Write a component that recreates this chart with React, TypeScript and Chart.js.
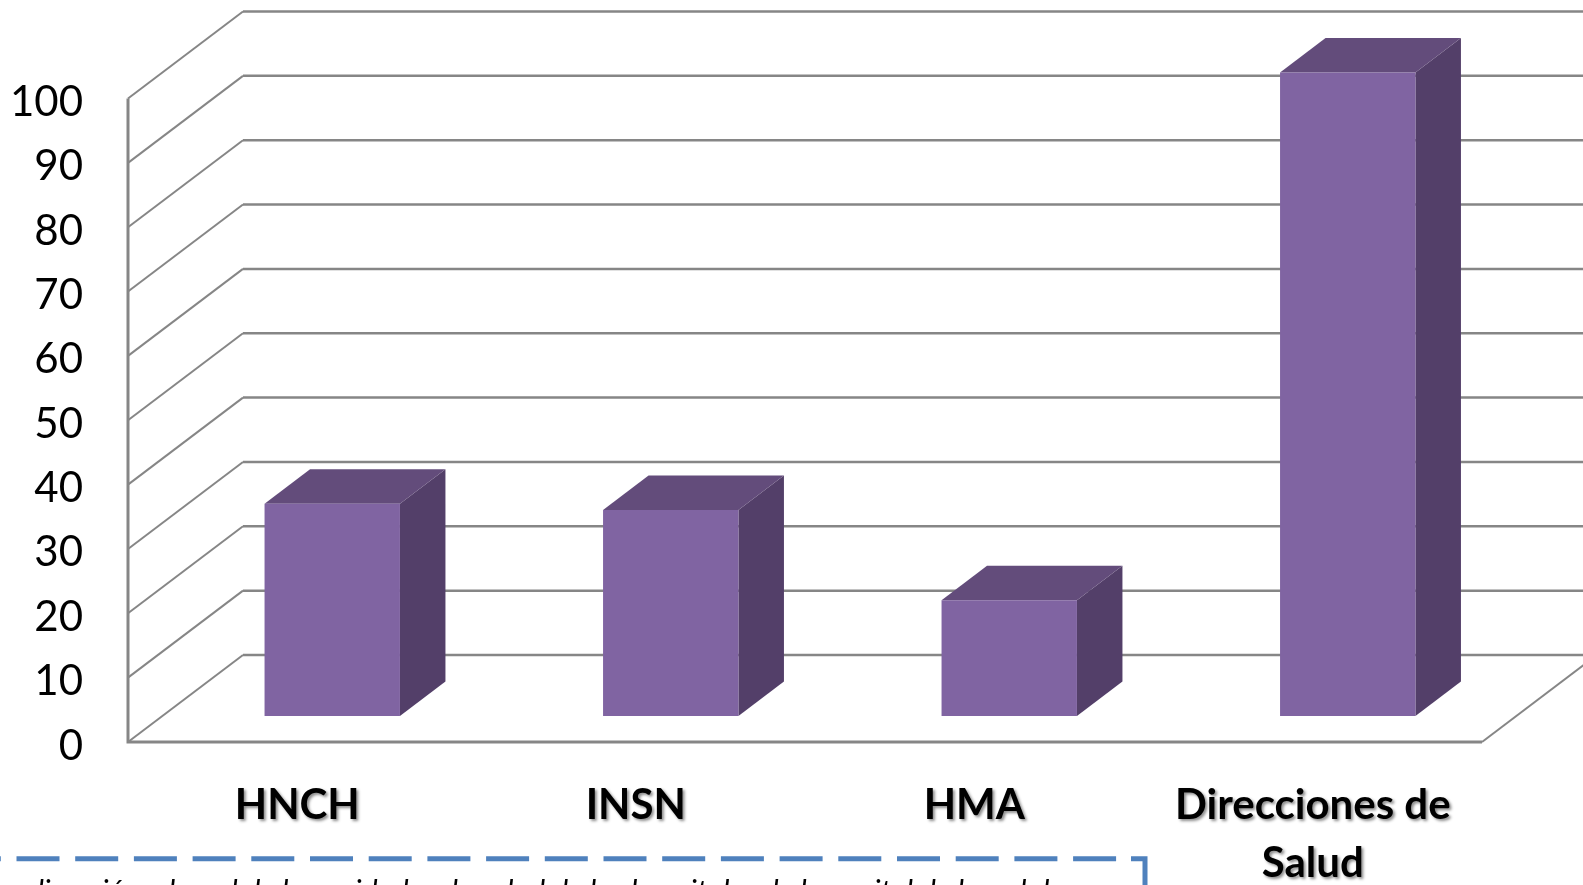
import React, { useEffect, useRef } from "react";
import { Chart, registerables } from "chart.js";

Chart.register(...registerables);

const categories: (string | string[])[] = ["HNCH", "INSN", "HMA", ["Direcciones de", "Salud"]];
const values = [33, 32, 18, 100];
const noteText = "dirección y la red de las unidades de salud de los hospitales de la capital de la red de";

const WALL_DX = 115;
const WALL_DY = 87;
const BAR_SHIFT_X = 35;
const BAR_SHIFT_Y = 26;
const BAR_DX = 45.5;
const BAR_DY = 34.5;
const LINE = "#868686";

const polygon = (ctx: CanvasRenderingContext2D, pts: number[][], fill: string) => {
  ctx.beginPath();
  pts.forEach(([x, y], i) => (i ? ctx.lineTo(x, y) : ctx.moveTo(x, y)));
  ctx.closePath();
  ctx.fillStyle = fill;
  ctx.fill();
};

const scene = {
  id: "scene",
  beforeDraw(chart: any) {
    const xs = chart.scales.x;
    const ys = chart.scales.y;
    if (!xs.__wrapped) {
      const origX = xs.drawLabels;
      xs.drawLabels = function (area: any) {
        const c = chart.ctx;
        c.save();
        c.shadowColor = "rgba(0,0,0,0.45)";
        c.shadowBlur = 3;
        c.shadowOffsetX = 2;
        c.shadowOffsetY = 2;
        origX.call(this, area);
        c.restore();
      };
      const origY = ys.drawLabels;
      ys.drawLabels = function (area: any) {
        const c = chart.ctx;
        c.save();
        c.translate(0, 4);
        origY.call(this, area);
        c.restore();
      };
      xs.__wrapped = true;
    }
  },
  beforeDatasetsDraw(chart: any) {
    const { ctx, chartArea: a, scales, width } = chart;
    const y = scales.y;
    // back wall and left wall gridlines
    y.ticks.forEach((t: any) => {
      const py = y.getPixelForValue(t.value);
      ctx.strokeStyle = LINE;
      ctx.lineWidth = 2;
      ctx.beginPath();
      ctx.moveTo(a.left, py);
      ctx.lineTo(a.left + WALL_DX, py - WALL_DY);
      ctx.stroke();
      ctx.lineWidth = 2.5;
      ctx.beginPath();
      ctx.moveTo(a.left + WALL_DX, py - WALL_DY);
      ctx.lineTo(width, py - WALL_DY);
      ctx.stroke();
    });
    // floor and axis
    ctx.strokeStyle = LINE;
    ctx.lineWidth = 2;
    ctx.beginPath();
    ctx.moveTo(a.right, a.bottom);
    ctx.lineTo(a.right + WALL_DX, a.bottom - WALL_DY);
    ctx.stroke();
    ctx.lineWidth = 3;
    ctx.beginPath();
    ctx.moveTo(a.left, a.top);
    ctx.lineTo(a.left, a.bottom);
    ctx.lineTo(a.right, a.bottom);
    ctx.stroke();
    // bar top and side faces, then shift the plane of the real bars
    ctx.save();
    ctx.translate(BAR_SHIFT_X, -BAR_SHIFT_Y);
    chart.getDatasetMeta(0).data.forEach((b: any) => {
      const l = b.x - b.width / 2;
      const r = b.x + b.width / 2;
      polygon(ctx, [[r, b.y], [r + BAR_DX, b.y - BAR_DY], [r + BAR_DX, b.base - BAR_DY], [r, b.base]], "#533F69");
      polygon(ctx, [[l, b.y], [l + BAR_DX, b.y - BAR_DY], [r + BAR_DX, b.y - BAR_DY], [r, b.y]], "#634C7B");
    });
  },
  afterDatasetsDraw(chart: any) {
    const ctx = chart.ctx;
    ctx.restore();
    // the cut-off dashed note box under the chart
    ctx.save();
    ctx.strokeStyle = "#4F81BD";
    ctx.lineWidth = 5;
    ctx.setLineDash([43, 15.7]);
    ctx.lineDashOffset = 42.2;
    ctx.beginPath();
    ctx.moveTo(0, 858.7);
    ctx.lineTo(1120, 858.7);
    ctx.stroke();
    ctx.setLineDash([]);
    ctx.beginPath();
    ctx.moveTo(1131, 858.7);
    ctx.lineTo(1145, 858.7);
    ctx.lineTo(1145, 890);
    ctx.stroke();
    ctx.fillStyle = "#000";
    ctx.font = "italic 30px Lato";
    ctx.textBaseline = "alphabetic";
    ctx.fillText(noteText, 28, 902);
    ctx.restore();
  },
};

export default function App() {
  const ref = useRef<HTMLCanvasElement>(null);
  useEffect(() => {
    const chart = new Chart(ref.current!, {
      type: "bar",
      data: {
        labels: categories as any,
        datasets: [
          {
            data: values,
            backgroundColor: "#8064A2",
            barPercentage: 0.4,
            categoryPercentage: 1,
            clip: false as any,
          },
        ],
      },
      options: {
        animation: false,
        responsive: false,
        layout: { padding: { top: 98.5, right: 101, left: 0, bottom: 0 } },
        plugins: { legend: { display: false }, tooltip: { enabled: false }, title: { display: false } },
        scales: {
          x: {
            grid: { display: false },
            border: { display: false },
            afterFit: (s: any) => {
              s.height = 143;
            },
            ticks: {
              autoSkip: false,
              maxRotation: 0,
              padding: 27,
              color: "#000",
              font: { family: "Lato", size: 42, weight: "bold", lineHeight: 1.37 },
            },
          },
          y: {
            min: 0,
            max: 100,
            grid: { display: false, drawTicks: false },
            border: { display: false },
            afterFit: (s: any) => {
              s.width = 128;
            },
            ticks: {
              stepSize: 10,
              padding: 45,
              color: "#000",
              font: { family: "Lato", size: 42 },
            },
          },
        },
      },
      plugins: [scene],
    });
    return () => chart.destroy();
  }, []);
  return (
    <div style={{ position: "fixed", inset: 0, overflow: "hidden", background: "#fff" }}>
      <canvas ref={ref} width={1583} height={885} style={{ display: "block" }} />
    </div>
  );
}
